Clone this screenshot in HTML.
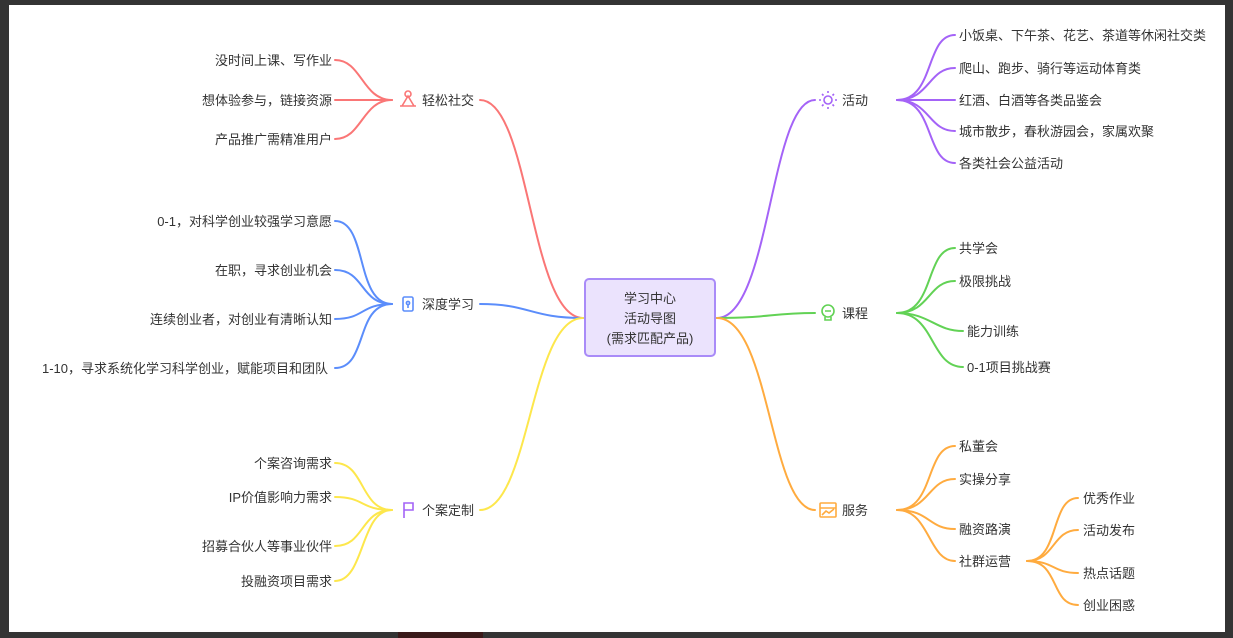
<!DOCTYPE html>
<html><head><meta charset="utf-8"><style>
html,body{margin:0;padding:0;background:#333;}
body{width:1233px;height:638px;overflow:hidden;position:relative;}
svg{position:absolute;left:0;top:0;}
text{font-family:"Liberation Sans","Noto Sans CJK SC",sans-serif;font-size:13px;fill:#333;}
</style></head><body>
<svg width="1233" height="638" viewBox="0 0 1233 638">
<rect x="0" y="0" width="1233" height="638" fill="#343434"/>
<rect x="9" y="5" width="1216" height="627" fill="#ffffff"/>
<rect x="398" y="632" width="85" height="6" fill="#3a1a1a"/>
<g fill="none" stroke-width="2" stroke-linecap="round">
<!-- red -->
<g stroke="#fa7676">
<path d="M583 318 C530 318 530 100 480 100"/>
<path d="M392 100 C362 100 362 60 335 60"/>
<path d="M392 100 C362 100 362 100 335 100"/>
<path d="M392 100 C362 100 362 139 335 139"/>
</g>
<!-- blue -->
<g stroke="#5b8dfb">
<path d="M583 318 C530 318 530 304 480 304"/>
<path d="M392 304 C355 304 368 221 335 221"/>
<path d="M392 304 C360 304 365 270 335 270"/>
<path d="M392 304 C360 304 365 319 335 319"/>
<path d="M392 304 C355 304 368 368 335 368"/>
</g>
<!-- yellow -->
<g stroke="#fde74c">
<path d="M583 318 C530 318 530 510 480 510"/>
<path d="M392 510 C360 510 365 463 335 463"/>
<path d="M392 510 C360 510 365 497 335 497"/>
<path d="M392 510 C360 510 365 546 335 546"/>
<path d="M392 510 C360 510 365 581 335 581"/>
</g>
<!-- purple -->
<g stroke="#a463f7">
<path d="M717 318 C770 318 770 100 815 100"/>
<path d="M897 100 C935 100 925 35 955 35"/>
<path d="M897 100 C930 100 928 68 955 68"/>
<path d="M897 100 C930 100 928 100 955 100"/>
<path d="M897 100 C930 100 928 131 955 131"/>
<path d="M897 100 C935 100 925 163 955 163"/>
</g>
<!-- green -->
<g stroke="#62d255">
<path d="M717 318 C770 318 770 313 815 313"/>
<path d="M897 313 C935 313 925 248 955 248"/>
<path d="M897 313 C930 313 928 281 955 281"/>
<path d="M897 313 C930 313 935 331 963 331"/>
<path d="M897 313 C935 313 930 367 963 367"/>
</g>
<!-- orange -->
<g stroke="#ffab3f">
<path d="M717 318 C770 318 770 510 815 510"/>
<path d="M897 510 C935 510 925 446 955 446"/>
<path d="M897 510 C930 510 928 479 955 479"/>
<path d="M897 510 C930 510 928 529 955 529"/>
<path d="M897 510 C930 510 928 561 955 561"/>
<path d="M1027 561 C1060 561 1050 498 1078 498"/>
<path d="M1027 561 C1055 561 1052 530 1078 530"/>
<path d="M1027 561 C1055 561 1052 573 1078 573"/>
<path d="M1027 561 C1060 561 1050 605 1078 605"/>
</g>
</g>
<!-- center -->
<rect x="585" y="279" width="130" height="77" rx="4" fill="#ebe3fd" stroke="#a98bf8" stroke-width="2"/>
<text x="650" y="303" text-anchor="middle">学习中心</text>
<text x="650" y="323" text-anchor="middle">活动导图</text>
<text x="650" y="343" text-anchor="middle">(需求匹配产品)</text>
<!-- topic icons -->
<g fill="none" stroke-width="1.6">
<g stroke="#fa7676"><circle cx="408" cy="94" r="3"/><path d="M402 106 L408 96 L414 106 M400 106 h16"/></g>
<g stroke="#5b8dfb"><rect x="403" y="297" width="10" height="14" rx="1.5"/><circle cx="408" cy="303" r="1.6"/><path d="M408 305 v3"/></g>
<g stroke="#a463f7"><path d="M404 518 V503 H413 V510 H404"/></g>
<g stroke="#a463f7"><circle cx="828" cy="100" r="4"/><path d="M828 91v2M828 107v2M819 100h2M835 100h2M822 94l1.5 1.5M834 94l-1.5 1.5M822 106l1.5-1.5M834 106l-1.5-1.5"/></g>
<g stroke="#62d255"><circle cx="828" cy="311" r="6"/><path d="M825 311h6M825 317v3h6v-3"/></g>
<g stroke="#ffab3f"><rect x="820" y="503" width="16" height="14" rx="1"/><path d="M820 508h16M822 515l4-4 3 2 5-4"/></g>
</g>
<!-- topic labels -->
<text x="422" y="105">轻松社交</text>
<text x="422" y="309">深度学习</text>
<text x="422" y="515">个案定制</text>
<text x="842" y="105">活动</text>
<text x="842" y="318">课程</text>
<text x="842" y="515">服务</text>
<!-- left leaves -->
<g text-anchor="end">
<text x="332" y="65">没时间上课、写作业</text>
<text x="332" y="105">想体验参与，链接资源</text>
<text x="332" y="144">产品推广需精准用户</text>
<text x="332" y="226">0-1，对科学创业较强学习意愿</text>
<text x="332" y="275">在职，寻求创业机会</text>
<text x="332" y="324">连续创业者，对创业有清晰认知</text>
<text x="328" y="373">1-10，寻求系统化学习科学创业，赋能项目和团队</text>
<text x="332" y="468">个案咨询需求</text>
<text x="332" y="502">IP价值影响力需求</text>
<text x="332" y="551">招募合伙人等事业伙伴</text>
<text x="332" y="586">投融资项目需求</text>
</g>
<!-- right leaves -->
<text x="959" y="40">小饭桌、下午茶、花艺、茶道等休闲社交类</text>
<text x="959" y="73">爬山、跑步、骑行等运动体育类</text>
<text x="959" y="105">红酒、白酒等各类品鉴会</text>
<text x="959" y="136">城市散步，春秋游园会，家属欢聚</text>
<text x="959" y="168">各类社会公益活动</text>
<text x="959" y="253">共学会</text>
<text x="959" y="286">极限挑战</text>
<text x="967" y="336">能力训练</text>
<text x="967" y="372">0-1项目挑战赛</text>
<text x="959" y="451">私董会</text>
<text x="959" y="484">实操分享</text>
<text x="959" y="534">融资路演</text>
<text x="959" y="566">社群运营</text>
<text x="1083" y="503">优秀作业</text>
<text x="1083" y="535">活动发布</text>
<text x="1083" y="578">热点话题</text>
<text x="1083" y="610">创业困惑</text>
</svg>
</body></html>
